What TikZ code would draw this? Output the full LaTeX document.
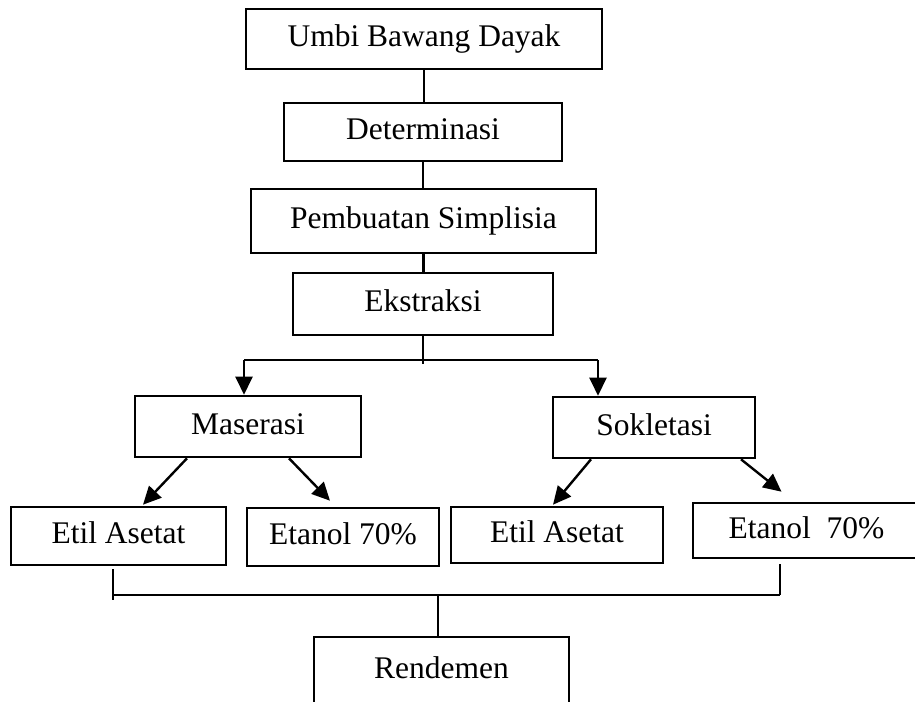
\documentclass[tikz,border=0pt]{standalone}
\usepackage{fontspec}
\setmainfont{Liberation Serif}
\usetikzlibrary{
    calc,
    arrows.meta
}
\tikzset{
    kotak/.style={
        draw=black,
        line width=2.6pt,
        inner sep=0pt,
        align=center,
        text height=21pt,
        text depth=6pt,
        font=\fontsize{31.5}{36}\selectfont
    },
    garis/.style={line width=2.4pt},
    panah/.style={line width=2.4pt, -{Triangle[length=18pt,width=17pt]}}
}

\begin{document}
\begin{tikzpicture}[x=1pt,y=-1pt]
    \useasboundingbox (0,0) rectangle (915,701);
    \clip (0,0) rectangle (915,701);
    % alur utama
    \node[kotak, minimum width=356pt, minimum height=60pt] (umbi) at (424,39) {Umbi Bawang Dayak};
    \node[kotak, minimum width=278pt, minimum height=58pt] (deter) at (423,132) {Determinasi};
    \node[kotak, minimum width=345pt, minimum height=64pt] (simpl) at (423.5,221) {Pembuatan Simplisia};
    \node[kotak, minimum width=260pt, minimum height=62pt] (ekstr) at (423,304) {Ekstraksi};
    % metode
    \node[kotak, minimum width=226pt, minimum height=61pt] (maser) at (248,426.5) {Maserasi};
    \node[kotak, minimum width=202pt, minimum height=61pt] (sokle) at (654,427.5) {Sokletasi};
    % pelarut
    \node[kotak, minimum width=215pt, minimum height=58pt] (etil1) at (118.5,536) {Etil Asetat};
    \node[kotak, minimum width=192pt, minimum height=58pt] (etan1) at (343,537) {Etanol 70\%};
    \node[kotak, minimum width=212pt, minimum height=56pt] (etil2) at (557,535) {Etil Asetat};
    \node[kotak, minimum width=227pt, minimum height=55pt] (etan2) at (806.5,530.5) {Etanol\ \ 70\%};
    % hasil
    \node[kotak, minimum width=255pt, minimum height=68pt] (rende) at (441.5,671) {Rendemen};

    \coordinate (cabang) at (423,364);
    \coordinate (kiri) at (244,360);
    \coordinate (kanan) at (598,360);
    \coordinate (bawahkiri) at (113,600);
    \coordinate (bawahkanan) at (780,595);
    \coordinate (gabung) at (438,595);

    \draw[garis] (umbi.south) -- (umbi.south |- deter.north);
    \draw[garis] (deter.south) -- (deter.south |- simpl.north);
    \draw[garis] (simpl.south) -- (simpl.south |- ekstr.north);
    \draw[garis] (ekstr.south) -- (cabang);
    \draw[garis] (kiri) -- (kanan);
    \draw[panah] (kiri) -- (kiri |- maser.north);
    \draw[panah] (kanan) -- (kanan |- sokle.north);

    \draw[panah] ([xshift=-61pt]maser.south) -- ([xshift=24.5pt,yshift=1pt]etil1.north);
    \draw[panah] ([xshift=41pt]maser.south) -- ([xshift=-13pt,yshift=6pt]etan1.north);
    \draw[panah] ([xshift=-63pt]sokle.south) -- ([xshift=-4pt,yshift=1pt]etil2.north);
    \draw[panah] ([xshift=87pt]sokle.south) -- ([xshift=-25pt,yshift=10pt]etan2.north);

    \draw[garis] ([xshift=-5.5pt,yshift=-3pt]etil1.south) -- (bawahkiri);
    \draw[garis] ([xshift=-26.5pt,yshift=-5pt]etan2.south) -- (bawahkanan);
    \draw[garis] (bawahkiri |- gabung) -- (bawahkanan);
    \draw[garis] (gabung) -- (gabung |- rende.north);
\end{tikzpicture}
\end{document}
